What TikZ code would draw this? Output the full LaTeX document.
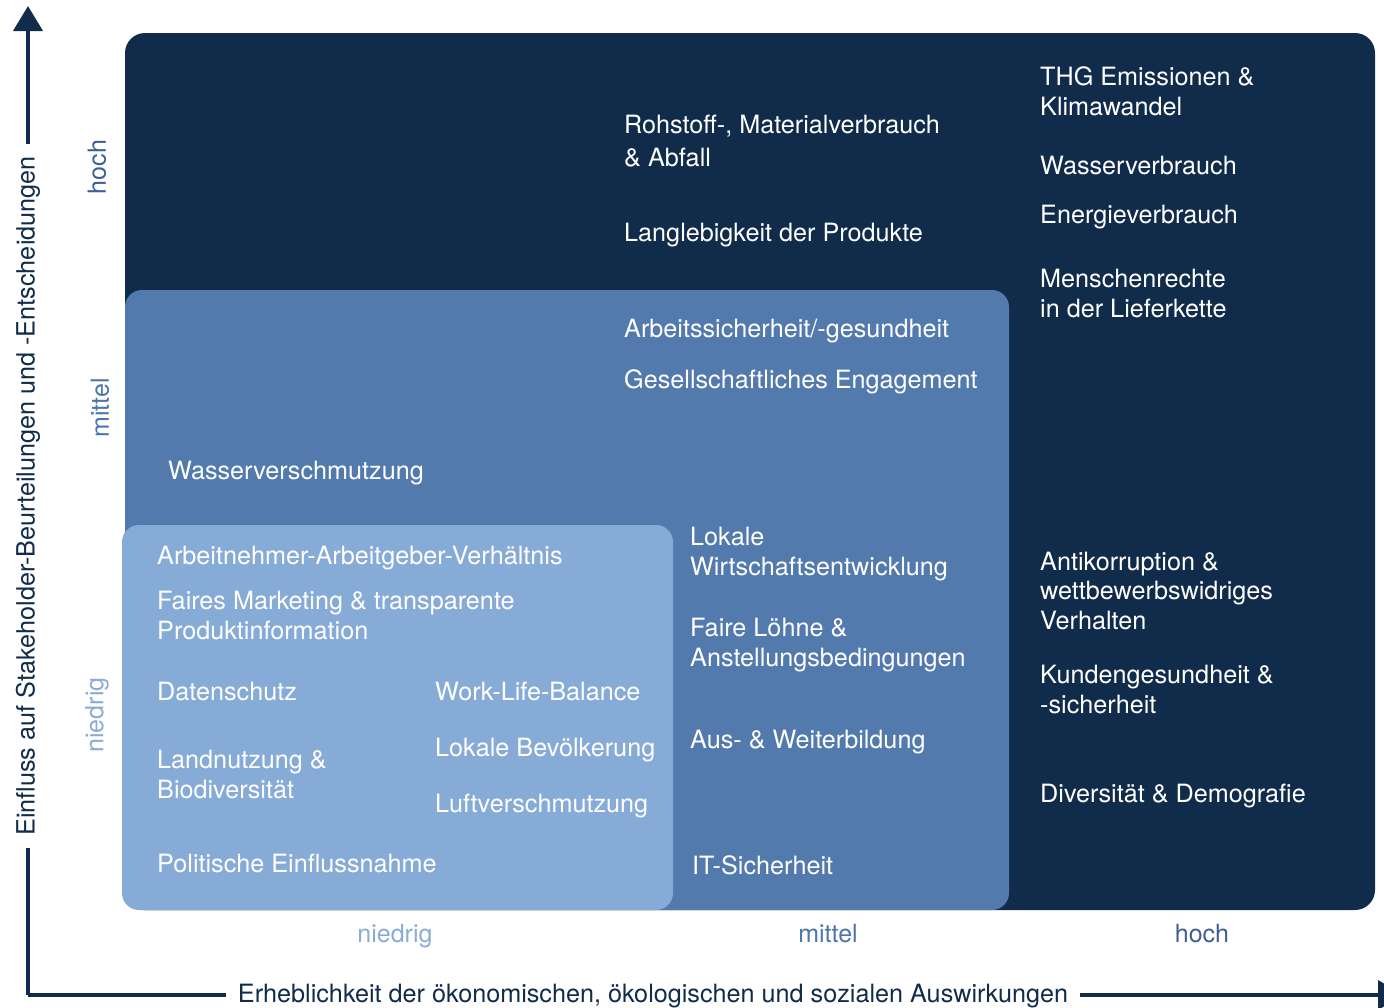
\documentclass[tikz,border=0pt]{standalone}
\usepackage{fontspec}
\setmainfont{TeX Gyre Heros}
\usetikzlibrary{arrows.meta}
\definecolor{navy}{HTML}{112C4A}
\definecolor{midblue}{HTML}{527AAD}
\definecolor{lightblue}{HTML}{87ABD7}
\definecolor{labhoch}{HTML}{3E5F93}
\definecolor{labmittel}{HTML}{4C75AA}
\definecolor{labniedrig}{HTML}{8BABD7}
\begin{document}
\begin{tikzpicture}[x=1pt,y=-1pt,
  item/.style={anchor=base west,inner sep=0pt,text=white,align=left,
    font=\fontsize{25.2pt}{29.5pt}\selectfont},
  wideitem/.style={item,font=\fontsize{25.2pt}{33pt}\selectfont},
  lvl/.style={inner sep=0pt,font=\fontsize{25pt}{29.5pt}\selectfont},
  axisline/.style={draw=navy,line width=4pt,-{Triangle[length=25pt,width=29pt]}},
  axistitle/.style={fill=white,text=navy,inner xsep=12pt,inner ysep=2pt,
    font=\fontsize{25.2pt}{29.5pt}\selectfont}]
\clip (0,0) rectangle (1384,1007);
\useasboundingbox (0,0) rectangle (1384,1007);
% boxes
\fill[navy,rounded corners=20pt] (125,33) rectangle (1375,910);
\fill[midblue,rounded corners=17pt] (125,290) rectangle (1009,910);
\fill[lightblue,rounded corners=17pt] (122,525) rectangle (673,910);
% axes
\coordinate (O) at (28,995);
\coordinate (Ytip) at (28,6);
\coordinate (Xtip) at (1403,995);
\draw[axisline] (O) -- (Ytip);
\draw[axisline] (O) -- (Xtip);
\node[axistitle,rotate=90] (ytitle) at (28,496) {Einfluss auf Stakeholder-Beurteilungen und -Entscheidungen};
\node[axistitle] (xtitle) at (653,996) {Erheblichkeit der ökonomischen, ökologischen und sozialen Auswirkungen};
% level labels
\node[lvl,text=labhoch,rotate=90] (yhoch) at (97,167) {hoch};
\node[lvl,text=labmittel,rotate=90] (ymittel) at (100,408) {mittel};
\node[lvl,text=labniedrig,rotate=90] (yniedrig) at (97,715) {niedrig};
\node[lvl,text=labniedrig] (xniedrig) at (395,936) {niedrig};
\node[lvl,text=labmittel] (xmittel) at (828,934) {mittel};
\node[lvl,text=labhoch] (xhoch) at (1202,934) {hoch};
% dark region items
\node[wideitem] (rohstoff) at (624,166) {Rohstoff-, Materialverbrauch\\\& Abfall};
\node[item] (langleb) at (624,241) {Langlebigkeit der Produkte};
\node[item] (thg) at (1040,115) {THG Emissionen \&\\Klimawandel};
\node[item] (wasserv) at (1040,174) {Wasserverbrauch};
\node[item] (energie) at (1040,223) {Energieverbrauch};
\node[item] (menschen) at (1040,317) {Menschenrechte\\in der Lieferkette};
\node[item] (antikorr) at (1040,629) {Antikorruption \&\\wettbewerbswidriges\\Verhalten};
\node[item] (kunden) at (1040,713) {Kundengesundheit \&\\-sicherheit};
\node[item] (divers) at (1040,802) {Diversität \& Demografie};
% medium region items
\node[item] (arbeitss) at (624,337) {Arbeitssicherheit/-gesundheit};
\node[item] (gesell) at (624,388) {Gesellschaftliches Engagement};
\node[item] (wasserschm) at (168,479) {Wasserverschmutzung};
\node[item] (lokalew) at (690,575) {Lokale\\Wirtschaftsentwicklung};
\node[item] (loehne) at (690,666) {Faire Löhne \&\\Anstellungsbedingungen};
\node[item] (ausbild) at (690,748) {Aus- \& Weiterbildung};
\node[item] (itsich) at (692,874) {IT-Sicherheit};
% light region items
\node[item] (arbnehm) at (157,564) {Arbeitnehmer-Arbeitgeber-Verhältnis};
\node[item] (faires) at (157,639) {Faires Marketing \& transparente\\Produktinformation};
\node[item] (daten) at (157,700) {Datenschutz};
\node[item] (wlb) at (435,700) {Work-Life-Balance};
\node[item] (landn) at (157,798) {Landnutzung \&\\Biodiversität};
\node[item] (lokbev) at (435,756) {Lokale Bevölkerung};
\node[item] (luft) at (435,812) {Luftverschmutzung};
\node[item] (polit) at (157,872) {Politische Einflussnahme};
\end{tikzpicture}
\end{document}
